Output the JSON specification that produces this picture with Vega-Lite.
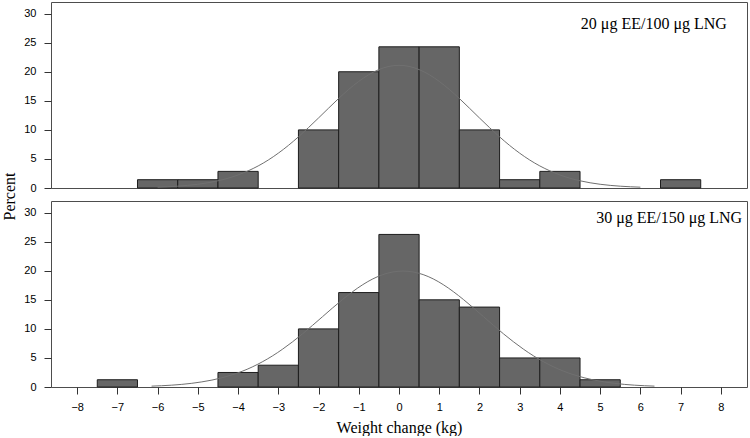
{
  "$schema": "https://vega.github.io/schema/vega-lite/v6.json",
  "background": "white",
  "padding": {"left": 0, "top": 1, "right": 0, "bottom": 0},
  "autosize": {"type": "pad"},
  "spacing": 13,
  "bounds": "flush",
  "datasets": {
    "bars": [
      {"panel": "20", "bin_start": -6.5, "bin_end": -5.5, "percent": 1.43},
      {"panel": "20", "bin_start": -5.5, "bin_end": -4.5, "percent": 1.43},
      {"panel": "20", "bin_start": -4.5, "bin_end": -3.5, "percent": 2.86},
      {"panel": "20", "bin_start": -2.5, "bin_end": -1.5, "percent": 10.0},
      {"panel": "20", "bin_start": -1.5, "bin_end": -0.5, "percent": 20.0},
      {"panel": "20", "bin_start": -0.5, "bin_end": 0.5, "percent": 24.29},
      {"panel": "20", "bin_start": 0.5, "bin_end": 1.5, "percent": 24.29},
      {"panel": "20", "bin_start": 1.5, "bin_end": 2.5, "percent": 10.0},
      {"panel": "20", "bin_start": 2.5, "bin_end": 3.5, "percent": 1.43},
      {"panel": "20", "bin_start": 3.5, "bin_end": 4.5, "percent": 2.86},
      {"panel": "20", "bin_start": 6.5, "bin_end": 7.5, "percent": 1.43},
      {"panel": "30", "bin_start": -7.5, "bin_end": -6.5, "percent": 1.25},
      {"panel": "30", "bin_start": -4.5, "bin_end": -3.5, "percent": 2.5},
      {"panel": "30", "bin_start": -3.5, "bin_end": -2.5, "percent": 3.75},
      {"panel": "30", "bin_start": -2.5, "bin_end": -1.5, "percent": 10.0},
      {"panel": "30", "bin_start": -1.5, "bin_end": -0.5, "percent": 16.25},
      {"panel": "30", "bin_start": -0.5, "bin_end": 0.5, "percent": 26.25},
      {"panel": "30", "bin_start": 0.5, "bin_end": 1.5, "percent": 15.0},
      {"panel": "30", "bin_start": 1.5, "bin_end": 2.5, "percent": 13.75},
      {"panel": "30", "bin_start": 2.5, "bin_end": 3.5, "percent": 5.0},
      {"panel": "30", "bin_start": 3.5, "bin_end": 4.5, "percent": 5.0},
      {"panel": "30", "bin_start": 4.5, "bin_end": 5.5, "percent": 1.25}
    ],
    "curve": [
      {"panel": "20", "x": -6.0, "y": 0.14},
      {"panel": "20", "x": -5.5, "y": 0.31},
      {"panel": "20", "x": -5.0, "y": 0.64},
      {"panel": "20", "x": -4.75, "y": 0.9},
      {"panel": "20", "x": -4.5, "y": 1.24},
      {"panel": "20", "x": -4.25, "y": 1.68},
      {"panel": "20", "x": -4.0, "y": 2.25},
      {"panel": "20", "x": -3.75, "y": 2.95},
      {"panel": "20", "x": -3.5, "y": 3.8},
      {"panel": "20", "x": -3.25, "y": 4.81},
      {"panel": "20", "x": -3.0, "y": 5.99},
      {"panel": "20", "x": -2.75, "y": 7.32},
      {"panel": "20", "x": -2.5, "y": 8.8},
      {"panel": "20", "x": -2.25, "y": 10.39},
      {"panel": "20", "x": -2.0, "y": 12.05},
      {"panel": "20", "x": -1.75, "y": 13.74},
      {"panel": "20", "x": -1.5, "y": 15.4},
      {"panel": "20", "x": -1.25, "y": 16.96},
      {"panel": "20", "x": -1.0, "y": 18.34},
      {"panel": "20", "x": -0.75, "y": 19.5},
      {"panel": "20", "x": -0.5, "y": 20.37},
      {"panel": "20", "x": -0.25, "y": 20.92},
      {"panel": "20", "x": 0.0, "y": 21.1},
      {"panel": "20", "x": 0.25, "y": 20.92},
      {"panel": "20", "x": 0.5, "y": 20.37},
      {"panel": "20", "x": 0.75, "y": 19.5},
      {"panel": "20", "x": 1.0, "y": 18.34},
      {"panel": "20", "x": 1.25, "y": 16.96},
      {"panel": "20", "x": 1.5, "y": 15.4},
      {"panel": "20", "x": 1.75, "y": 13.74},
      {"panel": "20", "x": 2.0, "y": 12.05},
      {"panel": "20", "x": 2.25, "y": 10.39},
      {"panel": "20", "x": 2.5, "y": 8.8},
      {"panel": "20", "x": 2.75, "y": 7.32},
      {"panel": "20", "x": 3.0, "y": 5.99},
      {"panel": "20", "x": 3.25, "y": 4.81},
      {"panel": "20", "x": 3.5, "y": 3.8},
      {"panel": "20", "x": 3.75, "y": 2.95},
      {"panel": "20", "x": 4.0, "y": 2.25},
      {"panel": "20", "x": 4.25, "y": 1.68},
      {"panel": "20", "x": 4.5, "y": 1.24},
      {"panel": "20", "x": 4.75, "y": 0.9},
      {"panel": "20", "x": 5.0, "y": 0.64},
      {"panel": "20", "x": 5.5, "y": 0.31},
      {"panel": "20", "x": 6.0, "y": 0.14},
      {"panel": "30", "x": -6.15, "y": 0.15},
      {"panel": "30", "x": -5.9, "y": 0.22},
      {"panel": "30", "x": -5.4, "y": 0.45},
      {"panel": "30", "x": -4.9, "y": 0.88},
      {"panel": "30", "x": -4.65, "y": 1.19},
      {"panel": "30", "x": -4.4, "y": 1.59},
      {"panel": "30", "x": -4.15, "y": 2.09},
      {"panel": "30", "x": -3.9, "y": 2.7},
      {"panel": "30", "x": -3.65, "y": 3.44},
      {"panel": "30", "x": -3.4, "y": 4.32},
      {"panel": "30", "x": -3.15, "y": 5.33},
      {"panel": "30", "x": -2.9, "y": 6.48},
      {"panel": "30", "x": -2.65, "y": 7.75},
      {"panel": "30", "x": -2.4, "y": 9.13},
      {"panel": "30", "x": -2.15, "y": 10.6},
      {"panel": "30", "x": -1.9, "y": 12.1},
      {"panel": "30", "x": -1.65, "y": 13.61},
      {"panel": "30", "x": -1.4, "y": 15.06},
      {"panel": "30", "x": -1.15, "y": 16.41},
      {"panel": "30", "x": -0.9, "y": 17.61},
      {"panel": "30", "x": -0.65, "y": 18.6},
      {"panel": "30", "x": -0.4, "y": 19.34},
      {"panel": "30", "x": -0.15, "y": 19.79},
      {"panel": "30", "x": 0.1, "y": 19.95},
      {"panel": "30", "x": 0.35, "y": 19.79},
      {"panel": "30", "x": 0.6, "y": 19.34},
      {"panel": "30", "x": 0.85, "y": 18.6},
      {"panel": "30", "x": 1.1, "y": 17.61},
      {"panel": "30", "x": 1.35, "y": 16.41},
      {"panel": "30", "x": 1.6, "y": 15.06},
      {"panel": "30", "x": 1.85, "y": 13.61},
      {"panel": "30", "x": 2.1, "y": 12.1},
      {"panel": "30", "x": 2.35, "y": 10.6},
      {"panel": "30", "x": 2.6, "y": 9.13},
      {"panel": "30", "x": 2.85, "y": 7.75},
      {"panel": "30", "x": 3.1, "y": 6.48},
      {"panel": "30", "x": 3.35, "y": 5.33},
      {"panel": "30", "x": 3.6, "y": 4.32},
      {"panel": "30", "x": 3.85, "y": 3.44},
      {"panel": "30", "x": 4.1, "y": 2.7},
      {"panel": "30", "x": 4.35, "y": 2.09},
      {"panel": "30", "x": 4.6, "y": 1.59},
      {"panel": "30", "x": 4.85, "y": 1.19},
      {"panel": "30", "x": 5.1, "y": 0.88},
      {"panel": "30", "x": 5.6, "y": 0.45},
      {"panel": "30", "x": 6.1, "y": 0.22},
      {"panel": "30", "x": 6.35, "y": 0.15}
    ],
    "labels": [
      {"panel": "20", "label": "20 μg EE/100 μg LNG"},
      {"panel": "30", "label": "30 μg EE/150 μg LNG"}
    ]
  },
  "vconcat": [
    {
      "width": 696,
      "height": 186,
      "layer": [
        {
          "data": {"name": "bars"},
          "transform": [{"filter": "datum.panel == '20'"}],
          "mark": {"type": "bar", "fill": "#666666", "stroke": "#1e1e1e", "strokeWidth": 1},
          "encoding": {
            "x": {"field": "bin_start", "type": "quantitative", "scale": {"domain": [-8.65, 8.65], "nice": false, "zero": false}, "axis": null},
            "x2": {"field": "bin_end"},
            "y": {"field": "percent", "type": "quantitative", "scale": {"domain": [0, 32], "nice": false},
              "axis": {"values": [0, 5, 10, 15, 20, 25, 30], "title": "Percent", "titleFont": "Liberation Serif", "titleFontSize": 16, "titleFontWeight": "normal", "titleX": -37, "titleY": 194, "titleAngle": -90, "titleAlign": "center", "titleBaseline": "alphabetic", "labelPadding": 8, "labelOverlap": false}},
            "y2": {"datum": 0}
          }
        },
        {
          "data": {"name": "curve"},
          "transform": [{"filter": "datum.panel == '20'"}],
          "mark": {"type": "line", "color": "#707070", "strokeWidth": 1, "interpolate": "monotone"},
          "encoding": {
            "x": {"field": "x", "type": "quantitative", "scale": {"domain": [-8.65, 8.65], "nice": false, "zero": false}, "axis": null},
            "y": {"field": "y", "type": "quantitative", "scale": {"domain": [0, 32], "nice": false},
              "axis": {"values": [0, 5, 10, 15, 20, 25, 30], "title": "Percent", "titleFont": "Liberation Serif", "titleFontSize": 16, "titleFontWeight": "normal", "titleX": -37, "titleY": 194, "titleAngle": -90, "titleAlign": "center", "titleBaseline": "alphabetic", "labelPadding": 8, "labelOverlap": false}}
          }
        },
        {
          "data": {"name": "labels"},
          "transform": [{"filter": "datum.panel == '20'"}],
          "mark": {"type": "text", "align": "right", "baseline": "alphabetic", "font": "Liberation Serif", "fontSize": 16, "color": "#000000"},
          "encoding": {
            "text": {"field": "label", "type": "nominal"},
            "x": {"datum": 8.15, "type": "quantitative", "scale": {"domain": [-8.65, 8.65], "nice": false, "zero": false}, "axis": null},
            "y": {"datum": 27.35, "type": "quantitative", "scale": {"domain": [0, 32], "nice": false},
              "axis": {"values": [0, 5, 10, 15, 20, 25, 30], "title": "Percent", "titleFont": "Liberation Serif", "titleFontSize": 16, "titleFontWeight": "normal", "titleX": -37, "titleY": 194, "titleAngle": -90, "titleAlign": "center", "titleBaseline": "alphabetic", "labelPadding": 8, "labelOverlap": false}}
          }
        }
      ]
    },
    {
      "width": 696,
      "height": 186,
      "layer": [
        {
          "data": {"name": "bars"},
          "transform": [{"filter": "datum.panel == '30'"}],
          "mark": {"type": "bar", "fill": "#666666", "stroke": "#1e1e1e", "strokeWidth": 1},
          "encoding": {
            "x": {"field": "bin_start", "type": "quantitative", "scale": {"domain": [-8.65, 8.65], "nice": false, "zero": false},
              "axis": {"values": [-8, -7, -6, -5, -4, -3, -2, -1, 0, 1, 2, 3, 4, 5, 6, 7, 8], "title": "Weight change (kg)", "titleFont": "Liberation Serif", "titleFontSize": 16, "titleFontWeight": "normal", "labelPadding": 7, "titlePadding": 7, "labelOverlap": false}},
            "x2": {"field": "bin_end"},
            "y": {"field": "percent", "type": "quantitative", "scale": {"domain": [0, 32], "nice": false},
              "axis": {"values": [0, 5, 10, 15, 20, 25, 30], "title": null, "labelPadding": 8, "labelOverlap": false}},
            "y2": {"datum": 0}
          }
        },
        {
          "data": {"name": "curve"},
          "transform": [{"filter": "datum.panel == '30'"}],
          "mark": {"type": "line", "color": "#707070", "strokeWidth": 1, "interpolate": "monotone"},
          "encoding": {
            "x": {"field": "x", "type": "quantitative", "scale": {"domain": [-8.65, 8.65], "nice": false, "zero": false},
              "axis": {"values": [-8, -7, -6, -5, -4, -3, -2, -1, 0, 1, 2, 3, 4, 5, 6, 7, 8], "title": "Weight change (kg)", "titleFont": "Liberation Serif", "titleFontSize": 16, "titleFontWeight": "normal", "labelPadding": 7, "titlePadding": 7, "labelOverlap": false}},
            "y": {"field": "y", "type": "quantitative", "scale": {"domain": [0, 32], "nice": false},
              "axis": {"values": [0, 5, 10, 15, 20, 25, 30], "title": null, "labelPadding": 8, "labelOverlap": false}}
          }
        },
        {
          "data": {"name": "labels"},
          "transform": [{"filter": "datum.panel == '30'"}],
          "mark": {"type": "text", "align": "right", "baseline": "alphabetic", "font": "Liberation Serif", "fontSize": 16, "color": "#000000"},
          "encoding": {
            "text": {"field": "label", "type": "nominal"},
            "x": {"datum": 8.53, "type": "quantitative", "scale": {"domain": [-8.65, 8.65], "nice": false, "zero": false},
              "axis": {"values": [-8, -7, -6, -5, -4, -3, -2, -1, 0, 1, 2, 3, 4, 5, 6, 7, 8], "title": "Weight change (kg)", "titleFont": "Liberation Serif", "titleFontSize": 16, "titleFontWeight": "normal", "labelPadding": 7, "titlePadding": 7, "labelOverlap": false}},
            "y": {"datum": 28.27, "type": "quantitative", "scale": {"domain": [0, 32], "nice": false},
              "axis": {"values": [0, 5, 10, 15, 20, 25, 30], "title": null, "labelPadding": 8, "labelOverlap": false}}
          }
        }
      ]
    }
  ],
  "config": {
    "font": "Liberation Serif",
    "view": {"stroke": "#4d4d4d", "strokeWidth": 1},
    "axis": {
      "domain": false,
      "grid": false,
      "tickColor": "#333333",
      "tickSize": 7,
      "tickWidth": 1,
      "labelFont": "Liberation Sans",
      "labelFontSize": 11,
      "labelColor": "#000000",
      "titleFont": "Liberation Serif",
      "titleFontSize": 16,
      "titleFontWeight": "normal",
      "titleColor": "#000000"
    }
  }
}
